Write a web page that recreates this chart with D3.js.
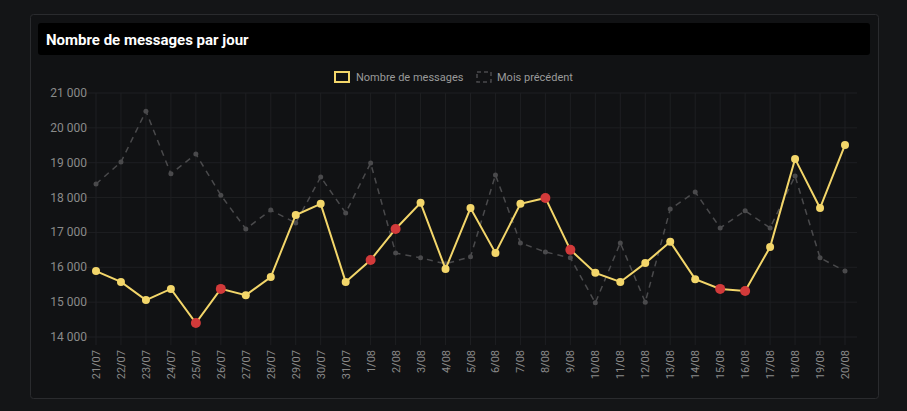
<!DOCTYPE html><html><head><meta charset="utf-8">
<script src="https://cdn.jsdelivr.net/npm/d3@7"></script>
<style>body{margin:0;background:#141517;font-family:Roboto,"Liberation Sans",sans-serif}</style></head><body>
<svg id="c" width="907" height="411"></svg>
<script>
const categories=["21/07","22/07","23/07","24/07","25/07","26/07","27/07","28/07","29/07","30/07","31/07","1/08","2/08","3/08","4/08","5/08","6/08","7/08","8/08","9/08","10/08","11/08","12/08","13/08","14/08","15/08","16/08","17/08","18/08","19/08","20/08"];
const messages=[15890,15580,15060,15380,14400,15380,15200,15720,17500,17820,15580,16210,17100,17850,15950,17700,16410,17820,17990,16500,15840,15580,16120,16730,15660,15380,15320,16580,19110,17700,19510];
const previous=[18390,19020,20480,18680,19250,18070,17100,17640,17270,18590,17560,18990,16410,16270,16100,16300,18650,16700,16440,16270,14980,16700,15000,17670,18160,17130,17620,17130,18620,16270,15890];
const redIdx=[4,5,11,12,18,19,25,26];
const yTicks=[14000,15000,16000,17000,18000,19000,20000,21000];
const svg=d3.select("#c");
svg.append("rect").attr("x",30.5).attr("y",14.5).attr("width",848).attr("height",384).attr("rx",3).attr("fill","#111214").attr("stroke","#2a2b2e");
svg.append("rect").attr("x",38).attr("y",23).attr("width",832).attr("height",32).attr("rx",3).attr("fill","#000");
svg.append("text").attr("x",46).attr("y",45).attr("fill","#fff").attr("font-size",15).attr("font-weight","bold").text("Nombre de messages par jour");
const x=d3.scalePoint().domain(categories).range([96,845]);
const y=d3.scaleLinear().domain([14000,21000]).range([337,93]);
const fmt=v=>d3.format(",")(v).replace(","," ");
const g=svg.append("g");
g.selectAll(".gy").data(yTicks).join("line").attr("x1",84).attr("x2",857).attr("y1",d=>y(d)).attr("y2",d=>y(d)).attr("stroke","#1e1f22");
g.selectAll(".gx").data(categories).join("line").attr("x1",d=>x(d)).attr("x2",d=>x(d)).attr("y1",93).attr("y2",345).attr("stroke","#1e1f22");
g.selectAll(".yl").data(yTicks).join("text").attr("x",87).attr("y",d=>y(d)+4).attr("text-anchor","end").attr("fill","#8a8a8a").attr("font-size",12).text(fmt);
g.selectAll(".xl").data(categories).join("text").attr("transform",d=>`translate(${x(d)+4},350) rotate(-90)`).attr("text-anchor","end").attr("fill","#8a8a8a").attr("font-size",11).text(d=>d);
const line=d3.line().x((d,i)=>x(categories[i])).y(d=>y(d));
svg.append("path").datum(previous).attr("d",line).attr("fill","none").attr("stroke","#4a4a4c").attr("stroke-width",1.5).attr("stroke-dasharray","6,5");
svg.selectAll(".pp").data(previous).join("circle").attr("cx",(d,i)=>x(categories[i])).attr("cy",d=>y(d)).attr("r",2.5).attr("fill","#4a4a4c");
svg.append("path").datum(messages).attr("d",line).attr("fill","none").attr("stroke","#f3d66a").attr("stroke-width",2);
svg.selectAll(".mp").data(messages).join("circle").attr("cx",(d,i)=>x(categories[i])).attr("cy",d=>y(d)).attr("r",(d,i)=>redIdx.includes(i)?5:4).attr("fill",(d,i)=>redIdx.includes(i)?"#d23a3a":"#f3d66a");
const lg=svg.append("g");
lg.append("rect").attr("x",335).attr("y",72).attr("width",14).attr("height",10).attr("fill","none").attr("stroke","#f3d66a").attr("stroke-width",2);
lg.append("text").attr("x",356).attr("y",81).attr("fill","#9a9a9a").attr("font-size",11).text("Nombre de messages");
lg.append("rect").attr("x",477).attr("y",72).attr("width",14).attr("height",10).attr("fill","none").attr("stroke","#4a4a4c").attr("stroke-width",1.5).attr("stroke-dasharray","4,3");
lg.append("text").attr("x",497).attr("y",81).attr("fill","#9a9a9a").attr("font-size",11).text("Mois précédent");
</script></body></html>
